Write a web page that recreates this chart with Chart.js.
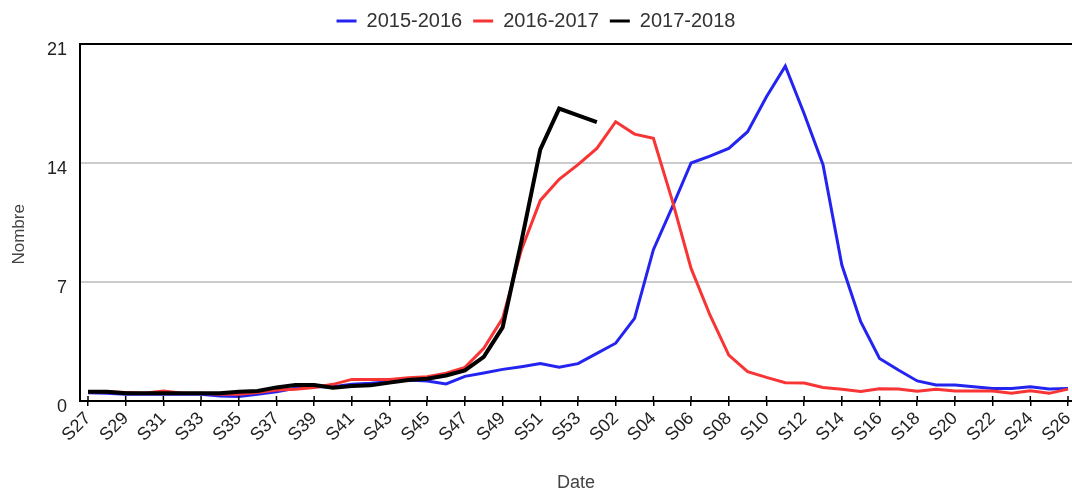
<!DOCTYPE html>
<html>
<head>
<meta charset="utf-8">
<script src="https://cdn.jsdelivr.net/npm/chart.js@4.4.1/dist/chart.umd.min.js"></script>
<style>
  html, body { margin: 0; padding: 0; background: #fff; }
</style>
</head>
<body>
<canvas id="myChart" width="1072" height="490"></canvas>
<script>
const weeks = [
  "S27", "S28", "S29", "S30", "S31", "S32", "S33", "S34", "S35", "S36",
  "S37", "S38", "S39", "S40", "S41", "S42", "S43", "S44", "S45", "S46",
  "S47", "S48", "S49", "S50", "S51", "S52", "S53", "S01", "S02", "S03",
  "S04", "S05", "S06", "S07", "S08", "S09", "S10", "S11", "S12", "S13",
  "S14", "S15", "S16", "S17", "S18", "S19", "S20", "S21", "S22", "S23",
  "S24", "S25", "S26"
];

const season1516 = [
  0.49, 0.45, 0.4, 0.4, 0.4, 0.4, 0.4, 0.29, 0.27, 0.4,
  0.55, 0.75, 0.84, 0.84, 0.98, 1.04, 1.14, 1.24, 1.18, 1.0,
  1.45, 1.65, 1.86, 2.02, 2.2, 1.98, 2.2, 2.8, 3.4, 4.86,
  8.9, 11.4, 14.0, 14.4, 14.86, 15.84, 17.9, 19.7, 16.9, 13.9,
  8.0, 4.67, 2.5, 1.82, 1.18, 0.94, 0.94, 0.84, 0.73, 0.73,
  0.84, 0.7, 0.74
];

const season1617 = [
  0.55, 0.55, 0.5, 0.45, 0.59, 0.45, 0.45, 0.4, 0.4, 0.5,
  0.65, 0.69, 0.8, 0.98, 1.27, 1.27, 1.27, 1.37, 1.43, 1.63,
  1.98, 3.1, 4.86, 8.9, 11.8, 13.04, 13.9, 14.86, 16.43, 15.7,
  15.45, 11.8, 7.8, 5.06, 2.7, 1.73, 1.39, 1.08, 1.06, 0.79,
  0.69, 0.56, 0.72, 0.7, 0.57, 0.69, 0.59, 0.59, 0.59, 0.45,
  0.6, 0.45, 0.7
];

// saison en cours : s'arrête à S01
const season1718 = [
  0.55, 0.55, 0.45, 0.45, 0.45, 0.45, 0.45, 0.45, 0.55, 0.59,
  0.8, 0.94, 0.94, 0.78, 0.88, 0.92, 1.08, 1.24, 1.31, 1.5,
  1.8, 2.6, 4.33, 9.4, 14.8, 17.2, 16.8, 16.4
];

const seasonNames = ["2015-2016", "2016-2017", "2017-2018"];
const yTicks = [0, 7, 14, 21];

Chart.defaults.font.family = "Arial, 'Liberation Sans', sans-serif";

const toPoints = values => values.map((v, i) => ({ x: i, y: v }));

// ticks that cross the x axis line (upper half)
const tickCross = {
  id: "tickCross",
  afterDraw(chart) {
    const x = chart.scales.x;
    const ctx = chart.ctx;
    const bottom = chart.chartArea.bottom;
    ctx.save();
    ctx.strokeStyle = "#000";
    ctx.lineWidth = 1.5;
    x.ticks.forEach(t => {
      const px = x.getPixelForValue(t.value);
      ctx.beginPath();
      ctx.moveTo(px, bottom - 5);
      ctx.lineTo(px, bottom);
      ctx.stroke();
    });
    ctx.restore();
  }
};

const legendHeight = {
  id: "legendHeight",
  afterInit(chart) {
    const fit = chart.legend.fit;
    chart.legend.fit = function () {
      fit.call(this);
      this.height = 44;
    };
  }
};

const ctx = document.getElementById("myChart").getContext("2d");

const chart = new Chart(ctx, {
  type: "line",
  data: {
    datasets: [
      {
        label: seasonNames[0],
        data: toPoints(season1516),
        borderColor: "#2424f0",
        backgroundColor: "#2424f0",
        borderWidth: 3,
        order: 3
      },
      {
        label: seasonNames[1],
        data: toPoints(season1617),
        borderColor: "#f83434",
        backgroundColor: "#f83434",
        borderWidth: 3,
        order: 2
      },
      {
        label: seasonNames[2],
        data: toPoints(season1718),
        borderColor: "#000",
        backgroundColor: "#000",
        borderWidth: 4,
        order: 1
      }
    ]
  },
  options: {
    responsive: false,
    animation: false,
    elements: {
      point: { radius: 0 },
      line: { tension: 0 }
    },
    layout: { padding: 0 },
    scales: {
      x: {
        type: "linear",
        min: -0.4245,
        max: 52.212,
        afterBuildTicks: axis => {
          axis.ticks = weeks.map((w, i) => i).filter(i => i % 2 === 0).map(v => ({ value: v }));
        },
        afterFit: axis => {
          axis.height = 89;
          axis.paddingLeft = 0;
          axis.paddingRight = 0;
        },
        ticks: {
          autoSkip: false,
          minRotation: 45,
          maxRotation: 45,
          padding: 2,
          color: "#222",
          font: { size: 18 },
          callback: v => weeks[v]
        },
        grid: {
          drawOnChartArea: false,
          drawTicks: true,
          tickLength: 5,
          color: "#000",
          lineWidth: 1.5
        },
        border: { color: "#000", width: 2 },
        title: {
          display: true,
          text: "Date",
          color: "#444",
          font: { size: 18, lineHeight: 0.8 },
          padding: { top: 0, bottom: 0 }
        }
      },
      y: {
        min: 0,
        max: 21,
        afterBuildTicks: axis => {
          axis.ticks = yTicks.map(v => ({ value: v }));
        },
        afterFit: axis => { axis.width = 80; },
        ticks: {
          padding: 13,
          labelOffset: 6,
          color: "#222",
          font: { size: 18 }
        },
        grid: {
          drawTicks: false,
          color: c => (c.tick && (c.tick.value === 0 || c.tick.value === 21)) ? "#000" : "#cccccc",
          lineWidth: 2
        },
        border: { color: "#000", width: 2 },
        title: {
          display: true,
          text: "Nombre     ",
          color: "#444",
          font: { size: 17 },
          padding: { top: 9, bottom: 0 }
        }
      }
    },
    plugins: {
      tooltip: { enabled: false },
      legend: {
        position: "top",
        labels: {
          boxWidth: 20,
          boxHeight: 3,
          padding: 11,
          color: "#333",
          font: { size: 20 },
          generateLabels: c => Chart.defaults.plugins.legend.labels.generateLabels(c)
            .map(l => ({ ...l, lineWidth: 0 })),
          sort: (a, b) => a.datasetIndex - b.datasetIndex
        }
      }
    }
  },
  plugins: [tickCross, legendHeight]
});
</script>
</body>
</html>
